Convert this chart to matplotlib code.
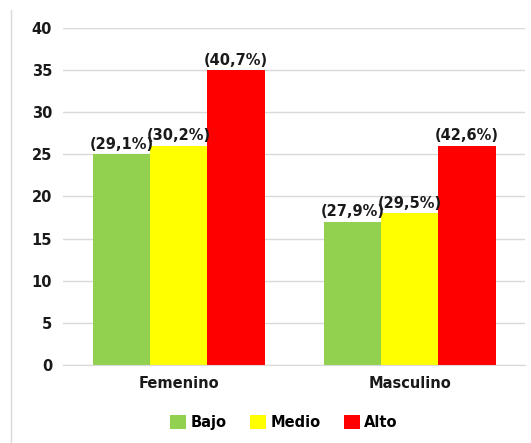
import matplotlib.pyplot as plt
import numpy as np
from matplotlib.lines import Line2D

categories = ["Femenino", "Masculino"]
series = ["Bajo", "Medio", "Alto"]
values = {
    "Bajo": [25, 17],
    "Medio": [26, 18],
    "Alto": [35, 26],
}
labels = {
    "Bajo": ["(29,1%)", "(27,9%)"],
    "Medio": ["(30,2%)", "(29,5%)"],
    "Alto": ["(40,7%)", "(42,6%)"],
}
colors = {"Bajo": "#92d050", "Medio": "#ffff00", "Alto": "#ff0000"}

fig = plt.figure(figsize=(5.31, 4.43), dpi=100)
ax = fig.add_axes([0.119, 0.176, 0.870, 0.761])

x = np.arange(len(categories))
width = 0.248
for i, s in enumerate(series):
    pos = x + (i - 1) * width
    bars = ax.bar(pos, values[s], width, color=colors[s], label=s, zorder=2)
    for b, lab in zip(bars, labels[s]):
        ax.text(b.get_x() + b.get_width() / 2, b.get_height() + 0.3, lab,
                ha="center", va="bottom", fontsize=10.5, fontweight="bold",
                color="#1a1a1a", zorder=3)

ax.set_xlim(-0.5, 1.5)
ax.set_ylim(0, 40)
ax.set_yticks(range(0, 41, 5))
ax.set_xticks(x)
ax.set_xticklabels(categories, fontsize=10.5, fontweight="bold")
for t in ax.get_yticklabels():
    t.set_fontsize(10.5)
    t.set_fontweight("bold")
ax.tick_params(length=0, pad=8, colors="#1a1a1a")
ax.yaxis.grid(True, color="#d9d9d9", lw=1, zorder=0)
ax.set_axisbelow(True)
for sp in ["top", "right", "left"]:
    ax.spines[sp].set_visible(False)
ax.spines["bottom"].set_color("#d9d9d9")

fig.legend(loc="center", bbox_to_anchor=(0.535, 0.047), ncol=3, frameon=False,
           prop={"size": 10.5, "weight": "bold"}, handlelength=1.1,
           handleheight=1.1, columnspacing=1.6, handletextpad=0.3)

fig.add_artist(Line2D([11 / 531, 11 / 531], [0, 1 - 10 / 443],
                      transform=fig.transFigure, color="#d9d9d9", lw=1))

fig.savefig("out.png", dpi=100)
